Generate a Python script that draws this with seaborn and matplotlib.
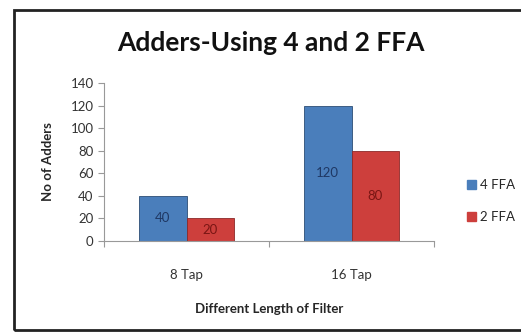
import pandas as pd
import matplotlib.pyplot as plt
import seaborn as sns
from matplotlib.patches import Rectangle

# chart data
taps = ["8 Tap", "16 Tap"]
ffa4 = [40, 120]
ffa2 = [20, 80]
series = ["4 FFA", "2 FFA"]

df = pd.DataFrame({
    "tap": taps * 2,
    "adders": ffa4 + ffa2,
    "series": [series[0]] * 2 + [series[1]] * 2,
})

sns.set_style("white")
plt.rcParams["font.family"] = ["Lato", "DejaVu Sans"]

fig = plt.figure(figsize=(5.21, 3.34), dpi=100)
ax = fig.add_axes([104 / 521, 1 - 241 / 334, 330 / 521, 158 / 334])

colors = {"4 FFA": "#4a7ebb", "2 FFA": "#cd3f3c"}
sns.barplot(data=df, x="tap", y="adders", hue="series", palette=colors,
            width=0.575, gap=0, ax=ax, legend=False, saturation=1,
            edgecolor="#2c4d75", linewidth=0.6)
for bar in ax.containers[1]:
    bar.set_edgecolor("#8c2a28")

text_cols = ["#1f3864", "#7a1614"]
for cont, tc in zip(ax.containers, text_cols):
    ax.bar_label(cont, label_type="center", color=tc, fontsize=9.5)

ax.set_ylim(0, 140)
ax.set_xlim(-0.5, 1.5)
ax.set_yticks(range(0, 141, 20))
ax.set_xticks([-0.5, 0.5, 1.5], minor=False)
ax.set_xticklabels([])
ax.set_xticks([0, 1], minor=True)
ax.set_xticklabels(taps, minor=True)
ax.tick_params(axis="x", which="minor", length=0, pad=20, labelsize=9.5, labelcolor="#333333")
ax.tick_params(axis="x", which="major", length=4, color="#999999", direction="out", bottom=True)
ax.tick_params(axis="y", length=4, color="#999999", direction="out", left=True,
               labelsize=9.5, labelcolor="#333333")
for s in ["top", "right"]:
    ax.spines[s].set_visible(False)
for s in ["left", "bottom"]:
    ax.spines[s].set_color("#999999")
    ax.spines[s].set_linewidth(0.8)

ax.set_xlabel("Different Length of Filter", fontsize=9.5, fontweight="bold", labelpad=16)
ax.set_ylabel("No of Adders", fontsize=9.5, fontweight="bold", labelpad=12)

fig.text(271 / 521, 1 - 43 / 334, "Adders-Using 4 and 2 FFA", ha="center", va="center",
         fontsize=19, fontweight="bold", color="#111111")

handles = [Rectangle((0, 0), 1, 1, color=colors[s]) for s in series]
fig.legend(handles, series, loc="center left", bbox_to_anchor=(455 / 521, 1 - 201 / 334),
           frameon=False, fontsize=9.5, handlelength=0.7, handleheight=0.7,
           handletextpad=0.3, labelspacing=1.5)

# outer frame
fig.patches.append(Rectangle((14 / 521, 4 / 334), 1.0, 1 - 14 / 334, transform=fig.transFigure,
                             fill=False, edgecolor="#222222", linewidth=2))

fig.savefig("out.png", dpi=100)
